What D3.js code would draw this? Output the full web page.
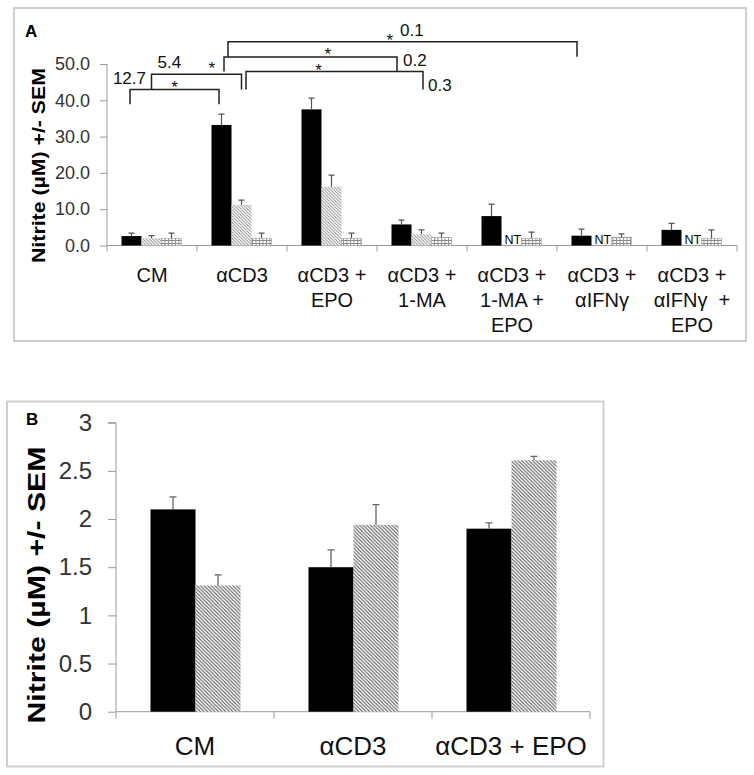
<!DOCTYPE html>
<html><head><meta charset="utf-8">
<script src="https://cdn.jsdelivr.net/npm/d3@7"></script>
<style>
html,body{margin:0;padding:0;background:#fff;}
text{font-family:"Liberation Sans",Arial,sans-serif;}
</style></head>
<body><svg id="c" width="754" height="775"></svg>
<script>
// ---------- DATA: panel A ----------
const categoriesA = ["CM","αCD3","αCD3 + EPO","αCD3 + 1-MA","αCD3 + 1-MA + EPO","αCD3 + αIFNγ","αCD3 + αIFNγ + EPO"];
const labelLinesA = [["CM"],["αCD3"],["αCD3 +","EPO"],["αCD3 +","1-MA"],["αCD3 +","1-MA +","EPO"],["αCD3 +","αIFNγ"],["αCD3 +","αIFNγ  +","EPO"]];
const seriesA0 = [2.6, 33.2, 37.5, 5.8, 8.1, 2.7, 4.3];
const errorA0  = [0.8, 3.0, 3.1, 1.2, 3.3, 1.8, 1.8];
const seriesA1 = [2.0, 11.2, 16.2, 3.1, null, null, null];
const errorA1  = [0.7, 1.3, 3.2, 1.2, null, null, null];
const seriesA2 = [2.0, 2.0, 2.0, 2.2, 2.0, 2.3, 2.0];
const errorA2  = [1.4, 1.4, 1.4, 1.2, 1.7, 0.9, 2.3];
const ticksA = [0, 10, 20, 30, 40, 50];
const notTestedLabel = "NT";
const bracketsA = [
  {from:[0,0], to:[1,0], top:43.0, dropL:38.9, dropR:38.9, p:"12.7"},
  {from:[0,1], to:[1,1], top:47.2, dropL:43.0, dropR:43.0, p:"5.4"},
  {from:[1,0], to:[5,0], top:56.1, dropL:51.9, dropR:52.0, p:"0.1"},
  {from:[1,0], to:[3,0], top:51.9, dropL:47.9, dropR:48.1, p:"0.2"},
  {from:[1,1], to:[3,1], top:47.9, dropL:43.0, dropR:43.0, p:"0.3"}
];
// ---------- DATA: panel B ----------
const categoriesB = ["CM","αCD3","αCD3 + EPO"];
const seriesB0 = [2.10, 1.50, 1.90];
const errorB0  = [0.13, 0.18, 0.06];
const seriesB1 = [1.31, 1.94, 2.61];
const errorB1  = [0.11, 0.21, 0.04];
const ticksB = [0, 0.5, 1, 1.5, 2, 2.5, 3];
const yTitle = "Nitrite (µM) +/- SEM";

// ---------- DRAW ----------
const svg = d3.select("#c");
const defs = svg.append("defs");
function hatch(id, size, color, w){
  const p = defs.append("pattern").attr("id",id).attr("patternUnits","userSpaceOnUse")
    .attr("width",size).attr("height",size);
  p.append("rect").attr("width",size).attr("height",size).attr("fill","#fff");
  p.append("path").attr("d",`M0,0L${size},${size}M${-size},0L${size},${2*size}M0,${-size}L${2*size},${size}`)
    .attr("stroke",color).attr("stroke-width",w);
}
hatch("hatchA", 3.2, "#8a8a8a", 0.9);
hatch("hatchB", 3.6, "#555", 1.1);
(function(){
  const p = defs.append("pattern").attr("id","gridA").attr("patternUnits","userSpaceOnUse")
    .attr("width",3.5).attr("height",3);
  p.append("rect").attr("width",3.5).attr("height",3).attr("fill","#fff");
  p.append("path").attr("d","M0.5,0V3M0,0.5H3.5").attr("stroke","#8a8a8a").attr("stroke-width",0.9);
})();

// frames
svg.append("rect").attr("x",14).attr("y",8).attr("width",732).attr("height",333)
  .attr("fill","none").attr("stroke","#cfcfcf").attr("stroke-width",2);
svg.append("rect").attr("x",7).attr("y",401.5).attr("width",596.5).attr("height",365)
  .attr("fill","none").attr("stroke","#cfcfcf").attr("stroke-width",2);

// ===== Panel A =====
const gA = svg.append("g");
const yA = d3.scaleLinear().domain([0,50]).range([245.5,64]);
const xA = d3.scaleBand().domain(d3.range(categoriesA.length)).range([107,737]).padding(0);
const xA1 = d3.scaleBand().domain([0,1,2]).range([14.5,74.5]).padding(0);
const fillsA = ["#000","url(#hatchA)","url(#gridA)"];
const seriesA = [seriesA0, seriesA1, seriesA2];
const errorsA = [errorA0, errorA1, errorA2];

gA.append("text").attr("x",25).attr("y",37).attr("font-size",17).attr("font-weight","bold").text("A");

const axA = gA.append("g").attr("transform","translate(107,0)")
  .call(d3.axisLeft(yA).tickValues(ticksA).tickFormat(d3.format(".1f")).tickSize(7).tickPadding(10));
axA.select(".domain").attr("stroke","#9a9a9a").attr("d","M-7,64.5H0V245.5");
axA.selectAll(".tick line").attr("stroke","#9a9a9a");
axA.selectAll(".tick text").attr("font-size",18).attr("fill","#333").attr("font-family","Liberation Sans, Arial, sans-serif");

// x axis
gA.append("line").attr("x1",107).attr("x2",737).attr("y1",yA(0)).attr("y2",yA(0)).attr("stroke","#9a9a9a");
const bA = categoriesA.map((d,i)=>xA(i)).concat([xA.range()[1]]);
gA.selectAll(".xt").data(bA).join("line").attr("x1",d=>d).attr("x2",d=>d)
  .attr("y1",yA(0)).attr("y2",yA(0)+6).attr("stroke","#9a9a9a");

seriesA.forEach((vals,s)=>{
  const g = gA.append("g");
  vals.forEach((v,i)=>{
    const x = xA(i)+xA1(s), w = xA1.bandwidth();
    if(v==null){
      g.append("text").attr("x",x+3).attr("y",yA(0)-2).attr("font-size",12.5).attr("fill","#000").text(notTestedLabel);
      return;
    }
    g.append("rect").attr("x",x).attr("y",yA(v)).attr("width",w).attr("height",yA(0)-yA(v))
      .attr("fill",fillsA[s]).attr("stroke",s===2?"#a0a0a0":"none").attr("stroke-width",0.6);
    const e = errorsA[s][i];
    if(e!=null){
      const cx = x+w/2;
      g.append("path").attr("d",`M${cx},${yA(v)}V${yA(v+e)}M${cx-3},${yA(v+e)}H${cx+3}`)
        .attr("stroke","#555").attr("stroke-width",1.2).attr("fill","none");
    }
  });
});

// x labels
labelLinesA.forEach((lines,i)=>{
  const t = gA.append("text").attr("text-anchor","middle").attr("font-size",20).attr("fill","#111")
    .attr("xml:space","preserve").style("white-space","pre");
  lines.forEach((l,k)=>t.append("tspan").attr("x",xA(i)+xA.bandwidth()/2).attr("y",yA(0)+36.5+k*25).text(l));
});
gA.append("text").attr("transform","translate(45,165.5) rotate(-90)").attr("text-anchor","middle")
  .attr("font-size",19).attr("font-weight","bold").attr("textLength",195).attr("lengthAdjust","spacingAndGlyphs").text(yTitle);

// brackets
const layoutA = [
  {dx1:-1.5, dx2:-2.5, sf:0.5,  sdy:-6,   lab:"leftOut", ldx:16, ldy:-5},
  {dx1:0,    dx2:0,    sf:0.67, sdy:-10.5,lab:"leftIn",  ldx:6,  ldy:-6},
  {dx1:6.5,  dx2:-4.5, sf:0.464,sdy:-6,   lab:"at",      ldx:172,ldy:-6},
  {dx1:2.5,  dx2:-4.5, sf:0.60, sdy:-7,   lab:"right",   ldx:6,  ldy:9},
  {dx1:4.5,  dx2:1.5,  sf:0.41, sdy:-6,   lab:"right",   ldx:5,  ldy:19}
];
const barC = (g,s)=> xA(g)+xA1(s)+xA1.bandwidth()/2;
bracketsA.forEach((b,k)=>{
  const L = layoutA[k];
  const x1 = barC(b.from[0],b.from[1])+L.dx1, x2 = barC(b.to[0],b.to[1])+L.dx2;
  const yt = yA(b.top);
  gA.append("path").attr("d",`M${x1},${yA(b.dropL)}V${yt}H${x2}V${yA(b.dropR)}`)
    .attr("fill","none").attr("stroke","#222").attr("stroke-width",1.5);
  gA.append("text").attr("x",x1+(x2-x1)*L.sf).attr("y",yt+L.sdy+10).attr("text-anchor","middle")
    .attr("font-size",17).attr("fill","#111").text("*");
  let lx, anchor="start";
  if(L.lab==="leftOut"){lx=x1+L.ldx; anchor="end";}
  else if(L.lab==="leftIn"){lx=x1+L.ldx;}
  else if(L.lab==="at"){lx=x1+L.ldx;}
  else {lx=x2+L.ldx;}
  gA.append("text").attr("x",lx).attr("y",yt+L.ldy).attr("text-anchor",anchor)
    .attr("font-size",17).attr("fill","#111").text(b.p);
});

// ===== Panel B =====
const gB = svg.append("g");
const yB = d3.scaleLinear().domain([0,3]).range([711.7,422.7]);
const xB = d3.scaleBand().domain(d3.range(categoriesB.length)).range([116,590]).padding(0);
const xB1 = d3.scaleBand().domain([0,1]).range([34.5,124.5]).padding(0);
gB.append("text").attr("x",26).attr("y",425).attr("font-size",17).attr("font-weight","bold").text("B");

const axB = gB.append("g").attr("transform","translate(116,0)")
  .call(d3.axisLeft(yB).tickValues(ticksB).tickFormat(d=>String(d)).tickSize(8).tickPadding(16));
axB.select(".domain").attr("stroke","#9a9a9a").attr("d",`M-8,${yB(3)}H0V${yB(0)}`);
axB.selectAll(".tick line").attr("stroke","#9a9a9a");
axB.selectAll(".tick text").attr("font-size",24).attr("fill","#333").attr("font-family","Liberation Sans, Arial, sans-serif");

gB.append("line").attr("x1",116).attr("x2",590).attr("y1",yB(0)).attr("y2",yB(0)).attr("stroke","#9a9a9a");
const bB = categoriesB.map((d,i)=>xB(i)).concat([xB.range()[1]]);
gB.selectAll(".xt").data(bB).join("line").attr("x1",d=>d).attr("x2",d=>d)
  .attr("y1",yB(0)).attr("y2",yB(0)+7).attr("stroke","#9a9a9a");

const seriesB = [seriesB0, seriesB1], errorsB = [errorB0, errorB1];
const fillsB = ["#000","url(#hatchB)"];
seriesB.forEach((vals,s)=>{
  vals.forEach((v,i)=>{
    const x = xB(i)+xB1(s), w = xB1.bandwidth();
    gB.append("rect").attr("x",x).attr("y",yB(v)).attr("width",w).attr("height",yB(0)-yB(v)).attr("fill",fillsB[s]);
    const e = errorsB[s][i], cx = x+w/2;
    gB.append("path").attr("d",`M${cx},${yB(v)}V${yB(v+e)}M${cx-3.5},${yB(v+e)}H${cx+3.5}`)
      .attr("stroke","#666").attr("stroke-width",1.3).attr("fill","none");
  });
});
categoriesB.forEach((c,i)=>{
  gB.append("text").attr("x",xB(i)+xB.bandwidth()/2).attr("y",755).attr("text-anchor","middle")
    .attr("font-size",26).attr("fill","#111").text(c);
});
gB.append("text").attr("transform","translate(45,585) rotate(-90)").attr("text-anchor","middle")
  .attr("font-size",23).attr("font-weight","bold").attr("textLength",277).attr("lengthAdjust","spacingAndGlyphs").text(yTitle);
</script></body></html>
